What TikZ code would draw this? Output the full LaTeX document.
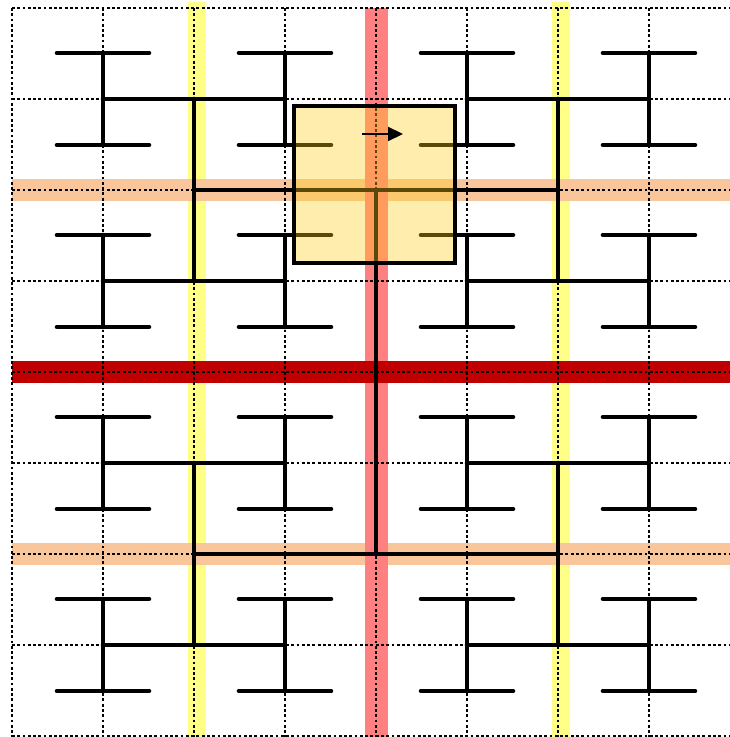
\documentclass[tikz,border=0pt]{standalone}
\usepackage{xcolor}
\usetikzlibrary{arrows.meta}
\definecolor{bandyellow}{RGB}{255,255,136}
\definecolor{bandorange}{RGB}{248,198,154}
\definecolor{bandpink}{RGB}{255,128,128}
\definecolor{bandred}{RGB}{192,0,0}
\definecolor{tileamber}{RGB}{255,205,30}

\begin{document}
\begin{tikzpicture}[x=0.02cm, y=-0.02cm, >=Stealth,
      gridline/.style={black, line width=0.6pt, dash pattern=on 1.6pt off 1.4pt},
      wire/.style={black, line width=2.6pt, line cap=round},
      hilite/.style={fill=tileamber, fill opacity=0.36}]

    \useasboundingbox (0,0) rectangle (730,737);

    % highlighted rows and columns
    \foreach \x in {197,561}
      \fill[bandyellow] (\x-9,2) rectangle (\x+9,737);
    \foreach \y in {190,554}
      \fill[bandorange] (12,\y-11) rectangle (730,\y+11);
    \fill[bandpink] (365,8) rectangle (388,737);
    \fill[bandred] (12,361) rectangle (730,383);

    % grid
    \foreach \i in {0,...,7}
      \draw[gridline] (12+91*\i,8) -- (12+91*\i,737);
    \foreach \j in {0,...,8}
      \draw[gridline] (12,8+91*\j) -- (730,8+91*\j);

    % leaves
    \foreach \x in {103,285,467,649}
      \foreach \y in {99,281,463,645} {
        \draw[wire] (\x-46,\y-46) -- (\x+46,\y-46);
        \draw[wire] (\x-46,\y+46) -- (\x+46,\y+46);
        \draw[wire] (\x,\y-46) -- (\x,\y+46);
      }
    % second level
    \foreach \y in {99,281,463,645} {
      \draw[wire] (103,\y) -- (285,\y);
      \draw[wire] (467,\y) -- (649,\y);
    }
    % third level
    \foreach \x in {194,558} {
      \draw[wire] (\x,99) -- (\x,281);
      \draw[wire] (\x,463) -- (\x,645);
    }
    % fourth level and root
    \foreach \y in {190,554}
      \draw[wire] (194,\y) -- (558,\y);
    \draw[wire] (376,190) -- (376,554);

    % selected block
    \fill[hilite] (294,106) rectangle (455,263);
    \draw[black, line width=2pt] (294,106) rectangle (455,263);
    \coordinate (a0) at (362,134);
    \coordinate (a1) at (403,134);
    \draw[-{Triangle[length=8.5pt, width=8pt]}, line width=1pt] (a0) -- (a1);
  \end{tikzpicture}
\end{document}
